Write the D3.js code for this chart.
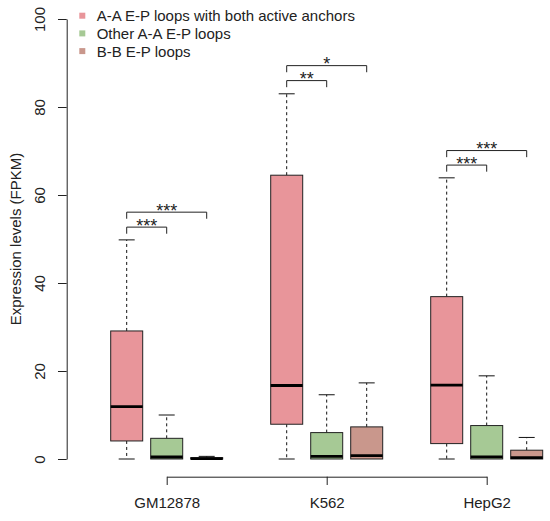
<!DOCTYPE html>
<html>
<head>
<meta charset="utf-8">
<script src="https://cdn.jsdelivr.net/npm/d3@7"></script>
<style>
  html, body { margin: 0; padding: 0; background: #fff; }
  svg { display: block; font-family: "Liberation Sans", Arial, Helvetica, sans-serif; }
</style>
</head>
<body>
<svg id="chart" width="550" height="521"></svg>
<script>
// ---- data ----
const categories = ["GM12878", "K562", "HepG2"];
const seriesNames = ["A-A E-P loops with both active anchors", "Other A-A E-P loops", "B-B E-P loops"];
const seriesColors = ["#E8959A", "#A6C995", "#C9978C"];
// rows = categories, columns = series
const whiskerLow  = [[0, 0, 0], [0, 0, 0], [0, 0, 0]];
const quartile1   = [[4.1, 0, 0], [7.9, 0, 0], [3.5, 0, 0]];
const medians     = [[11.9, 0.45, 0.1], [16.7, 0.6, 0.75], [16.8, 0.5, 0.3]];
const quartile3   = [[29.1, 4.7, 0.3], [64.5, 6.0, 7.3], [36.9, 7.6, 2.0]];
const whiskerHigh = [[49.8, 10.0, 0.6], [83.0, 14.6, 17.3], [63.9, 18.9, 4.9]];
const yTicks = [0, 20, 40, 60, 80, 100];
// significance brackets: series pairs, labels and heights per category
const sigPairs  = [[0, 1], [0, 2]];
const sigLabels = [["***", "***"], ["**", "*"], ["***", "***"]];
const sigLevels = [[52.7, 56.1], [86.0, 89.4], [66.8, 70.1]];

// ---- layout ----
const svg = d3.select("#chart");
const x = d3.scaleLinear().domain([0.5, 11.5]).range([106.7, 546.7]);
const y = d3.scaleLinear().domain([0, 100]).range([459, 19]);
const pos = (c, s) => c * 4 + s + 1;
const boxW = x(0.8) - x(0);
const capW = x(0.4) - x(0);

const boxes = [];
categories.forEach((cat, c) => {
  seriesNames.forEach((nm, s) => {
    boxes.push({
      c, s, p: pos(c, s),
      lo: whiskerLow[c][s], q1: quartile1[c][s], med: medians[c][s],
      q3: quartile3[c][s], hi: whiskerHigh[c][s]
    });
  });
});

const g = svg.append("g");

// whiskers
boxes.forEach(b => {
  const cx = x(b.p);
  if (b.hi > b.q3) {
    g.append("line").attr("x1", cx).attr("x2", cx).attr("y1", y(b.q3)).attr("y2", y(b.hi))
      .attr("stroke", "#111").attr("stroke-width", 1).attr("stroke-dasharray", "3,3");
    g.append("line").attr("x1", cx - capW / 2).attr("x2", cx + capW / 2).attr("y1", y(b.hi)).attr("y2", y(b.hi))
      .attr("stroke", "#111").attr("stroke-width", 1);
  }
  if (b.q1 > b.lo) {
    g.append("line").attr("x1", cx).attr("x2", cx).attr("y1", y(b.q1)).attr("y2", y(b.lo))
      .attr("stroke", "#111").attr("stroke-width", 1).attr("stroke-dasharray", "3,3");
    g.append("line").attr("x1", cx - capW / 2).attr("x2", cx + capW / 2).attr("y1", y(b.lo)).attr("y2", y(b.lo))
      .attr("stroke", "#111").attr("stroke-width", 1);
  }
});

// boxes
g.selectAll("rect.box").data(boxes).join("rect")
  .attr("class", "box")
  .attr("x", d => x(d.p) - boxW / 2)
  .attr("width", boxW)
  .attr("y", d => y(d.q3))
  .attr("height", d => Math.max(0.8, y(d.q1) - y(d.q3)))
  .attr("fill", d => seriesColors[d.s])
  .attr("stroke", "#222").attr("stroke-width", 1);

// medians
g.selectAll("line.med").data(boxes).join("line")
  .attr("class", "med")
  .attr("x1", d => x(d.p) - boxW / 2).attr("x2", d => x(d.p) + boxW / 2)
  .attr("y1", d => y(d.med)).attr("y2", d => y(d.med))
  .attr("stroke", "#000").attr("stroke-width", 2.8);

// y axis
const yAxis = svg.append("g").attr("transform", "translate(66.7,0)")
  .call(d3.axisLeft(y).tickValues(yTicks).tickSize(8.7).tickSizeOuter(0));
yAxis.select(".domain").attr("stroke", "#222");
yAxis.selectAll(".tick line").attr("stroke", "#222");
yAxis.selectAll(".tick text")
  .attr("x", null).attr("dy", null)
  .attr("transform", "translate(-21.5,0) rotate(-90)")
  .attr("text-anchor", "middle")
  .attr("font-size", 15)
  .attr("font-family", "Liberation Sans, Arial, sans-serif")
  .attr("fill", "#222");

svg.append("text")
  .attr("transform", `translate(20.5,${(y(0) + y(100)) / 2}) rotate(-90)`)
  .attr("text-anchor", "middle")
  .attr("font-size", 15)
  .attr("fill", "#222")
  .text("Expression levels (FPKM)");

// x axis (spanning middle boxes of groups)
const xTickPos = categories.map((cat, c) => pos(c, 1));
const xAxisY = 476.7;
const xa = d3.scaleLinear().domain([xTickPos[0], xTickPos[xTickPos.length - 1]])
  .range([x(xTickPos[0]), x(xTickPos[xTickPos.length - 1])]);
const xAxis = svg.append("g").attr("transform", `translate(0,${xAxisY})`)
  .call(d3.axisBottom(xa).tickValues(xTickPos).tickSize(8.3).tickSizeOuter(0)
    .tickFormat((d, i) => categories[i]));
xAxis.select(".domain").attr("stroke", "#222");
xAxis.selectAll(".tick line").attr("stroke", "#222");
xAxis.selectAll(".tick text")
  .attr("y", 31.6).attr("dy", null)
  .attr("font-size", 15)
  .attr("font-family", "Liberation Sans, Arial, sans-serif")
  .attr("fill", "#222");

// significance brackets
const legLen = 6.6;
categories.forEach((cat, c) => {
  sigPairs.forEach((pr, k) => {
    const x1 = x(pos(c, pr[0])), x2 = x(pos(c, pr[1]));
    const yy = y(sigLevels[c][k]);
    g.append("path")
      .attr("d", `M${x1},${yy + legLen}V${yy}H${x2}V${yy + legLen}`)
      .attr("fill", "none").attr("stroke", "#222").attr("stroke-width", 1);
    g.append("text")
      .attr("x", (x1 + x2) / 2).attr("y", yy + 4.5)
      .attr("text-anchor", "middle")
      .attr("font-size", 18)
      .attr("fill", "#222")
      .text(sigLabels[c][k]);
  });
});

// legend
const legY = [15.7, 33.4, 51.1];
seriesNames.forEach((nm, s) => {
  svg.append("rect")
    .attr("x", 82.3 - 3).attr("y", legY[s] - 3)
    .attr("width", 6).attr("height", 6)
    .attr("fill", seriesColors[s]);
  svg.append("text")
    .attr("x", 96.7).attr("y", legY[s] + 5.4)
    .attr("font-size", 15)
    .attr("fill", "#222")
    .text(nm);
});
</script>
</body>
</html>
